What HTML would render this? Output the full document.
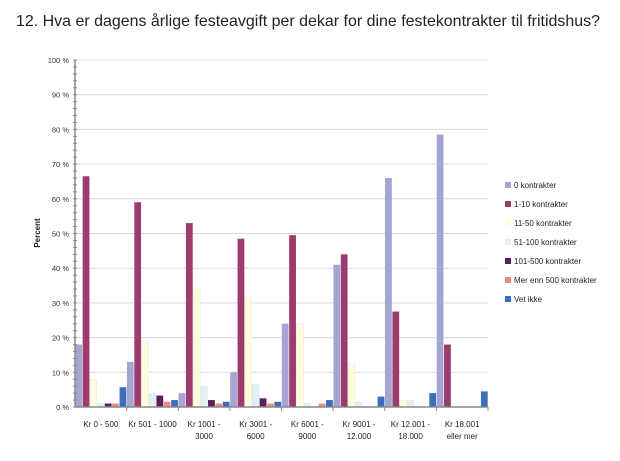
<!DOCTYPE html>
<html><head><meta charset="utf-8"><style>
body{margin:0;background:#fff;width:620px;height:456px;overflow:hidden;font-family:"Liberation Sans",sans-serif}
</style></head><body>
<svg width="620" height="456" id="svg">
<text x="16" y="26" font-size="16" textLength="584" lengthAdjust="spacingAndGlyphs" fill="#222">12. Hva er dagens årlige festeavgift per dekar for dine festekontrakter til fritidshus?</text>
<text transform="translate(40,233) rotate(-90)" font-size="8" font-weight="bold" text-anchor="middle" fill="#222">Percent</text>
<g id="grid"></g><g id="bars"></g><g id="axes"></g><g id="legend"></g>
</svg>
<script>
const categories=[["Kr 0 - 500"],["Kr 501 - 1000"],["Kr 1001 -","3000"],["Kr 3001 -","6000"],["Kr 6001 -","9000"],["Kr 9001 -","12.000"],["Kr 12.001 -","18.000"],["Kr 18.001","eller mer"]];
const seriesNames=["0 kontrakter","1-10 kontrakter","11-50 kontrakter","51-100 kontrakter","101-500 kontrakter","Mer enn 500 kontrakter","Vet ikke"];
const s0=[18,13,4,10,24,41,66,78.5];
const s1=[66.5,59,53,48.5,49.5,44,27.5,18];
const s2=[8,19,34,32,24,12.5,2,0];
const s3=[1,4,6,6.5,1,1.5,2,0];
const s4=[1,3.3,2,2.5,0,0,0,0];
const s5=[1,1.5,1,1,1,0,0,0];
const s6=[5.7,2,1.5,1.5,2,3,4,4.5];
const series=[s0,s1,s2,s3,s4,s5,s6];
const ticks=[0,10,20,30,40,50,60,70,80,90,100];
const colors=["#a5a5d3","#9b3b6e","#fefde0","#dff0f7","#5c1e5e","#ee8b84","#3c6eb9"];
const X0=75,X1=488,Y0=407,Y1=60;
const y=v=>Y0-(v/100)*(Y0-Y1);
const gw=(X1-X0)/categories.length;
const bw=gw/7;
const NS="http://www.w3.org/2000/svg";
function mk(t,a,p){const e=document.createElementNS(NS,t);for(const k in a)e.setAttribute(k,a[k]);document.getElementById(p).appendChild(e);return e;}
ticks.forEach(t=>{
  if(t>0){const l=mk("line",{x1:X0,x2:X1,y1:y(t),y2:y(t),stroke:"#d9d9d9","stroke-width":1},"grid");
  
  }
  const tx=mk("text",{x:X0-6,y:y(t)+3,"font-size":"7.5","text-anchor":"end",fill:"#333"},"axes");
  tx.textContent=t+" %";
  
  
});
for(let t=0;t<=100;t+=2){mk("line",{x1:X0-2,x2:X0+2,y1:y(t),y2:y(t),stroke:"#888"},"axes");}
mk("line",{x1:X0,x2:X0,y1:Y1,y2:Y0,stroke:"#888","stroke-width":1.5},"axes");
mk("line",{x1:X0,x2:X1,y1:Y0,y2:Y0,stroke:"#888","stroke-width":1.5},"axes");
categories.forEach((c,i)=>{
  const cx=X0+gw*(i+0.5);
  mk("line",{x1:X0+gw*(i+1),x2:X0+gw*(i+1),y1:Y0,y2:Y0+4,stroke:"#888"},"axes");
  c.forEach((ln,j)=>{const t=mk("text",{x:cx,y:Y0+20+j*12,"font-size":"8","text-anchor":"middle",fill:"#222"},"axes");
  t.textContent=ln;
  
  });
  series.forEach((s,k)=>{
    if(s[i]<=0)return;
    const r=mk("rect",{x:X0+gw*i+bw*k+0.3,y:y(s[i]),width:bw-0.6,height:Y0-y(s[i]),fill:colors[k],stroke:k==2||k==3?"#e4e4c8":"none","stroke-width":0.4},"bars");
    
    
  });
});
seriesNames.forEach((n,k)=>{
  const yy=187+k*19;
  const r=mk("rect",{x:505,y:yy-5,width:6,height:6,fill:colors[k]},"legend");
  
  
  const t=mk("text",{x:514,y:yy+1,"font-size":"8",fill:"#222"},"legend");
  t.textContent=n;
  
  
});
</script>
</body></html>
